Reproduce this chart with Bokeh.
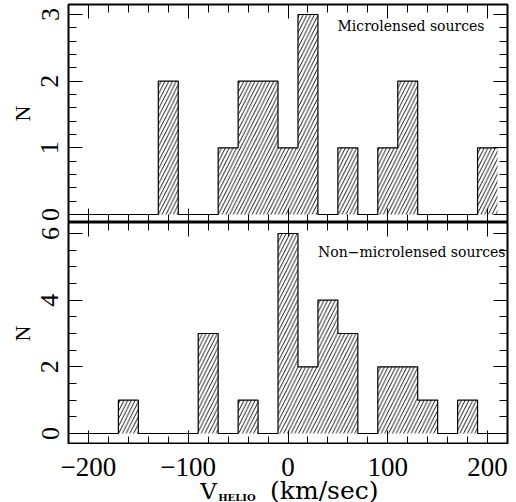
from bokeh.plotting import figure
from bokeh.models import Range1d, LinearAxis, FixedTicker, Label, CustomJSTickFormatter
from bokeh.layouts import column
from bokeh.embed import file_html
from bokeh.resources import INLINE

# ---- data (bin centres in km/s, counts per 20 km/s bin) ----
bin_centers = [-220, -200, -180, -160, -140, -120, -100, -80, -60, -40, -20,
               0, 20, 40, 60, 80, 100, 120, 140, 160, 180, 200]
bin_width = 20
micro_counts = [0, 0, 0, 0, 0, 2, 0, 0, 1, 2, 2,
                1, 3, 0, 1, 0, 1, 2, 0, 0, 0, 1]
nonmicro_counts = [0, 0, 0, 1, 0, 0, 0, 3, 0, 1, 0,
                   6, 2, 4, 3, 0, 2, 2, 1, 0, 1, 0]
x_major = [-200, -100, 0, 100, 200]
x_minor = list(range(-220, 221, 20))
y_top_major = [0, 1, 2, 3]
y_top_minor = [i * 0.2 for i in range(0, 17)]
y_bot_major = [0, 2, 4, 6]
y_bot_minor = [i * 0.5 for i in range(0, 14)]

TICK_FONT = "Liberation Serif"
SERIF = "DejaVu Serif"
W = 516
LB, RB = 68, 9

minus_fmt = CustomJSTickFormatter(code="return tick < 0 ? '\u2212' + Math.abs(tick) : String(tick);")
x_range = Range1d(-220, 220)


def ticks_only(ax):
    ax.major_tick_in = 14
    ax.major_tick_out = 0
    ax.minor_tick_in = 8
    ax.minor_tick_out = 0
    ax.axis_line_color = None
    ax.major_tick_line_color = "black"
    ax.minor_tick_line_color = "black"
    ax.major_tick_line_width = 1
    ax.minor_tick_line_width = 1
    ax.major_label_text_font_size = "0px"
    ax.major_label_standoff = 0


def make_panel(counts, y0, y1, ymaj, ymin, height, top_border):
    p = figure(width=W, height=height, x_range=x_range, y_range=Range1d(y0, y1),
               output_backend="svg", toolbar_location=None,
               x_axis_location=None, y_axis_location=None,
               min_border_left=LB, min_border_right=RB, min_border_top=top_border,
               min_border_bottom=0)
    p.outline_line_color = "black"
    p.outline_line_width = 2
    p.background_fill_color = "white"
    p.border_fill_color = "white"
    for g in p.grid:
        g.visible = False
    xt = FixedTicker(ticks=x_major, minor_ticks=x_minor)
    yt = FixedTicker(ticks=ymaj, minor_ticks=ymin)
    bottom = LinearAxis(ticker=xt)
    ticks_only(bottom)
    top = LinearAxis(ticker=xt)
    ticks_only(top)
    right = LinearAxis(ticker=yt)
    ticks_only(right)
    left = LinearAxis(ticker=yt)
    ticks_only(left)
    left.major_label_text_font = TICK_FONT
    left.major_label_text_font_size = "26px"
    left.major_label_text_color = "black"
    left.major_label_orientation = "vertical"
    left.major_label_standoff = 10
    left.axis_label = "N"
    left.axis_label_text_font = TICK_FONT
    left.axis_label_text_font_size = "22px"
    left.axis_label_text_font_style = "normal"
    left.axis_label_text_color = "black"
    left.axis_label_standoff = 4
    p.add_layout(bottom, "below")
    p.add_layout(top, "above")
    p.add_layout(left, "left")
    p.add_layout(right, "right")

    lefts = [c - bin_width / 2 for c in bin_centers]
    rights = [c + bin_width / 2 for c in bin_centers]
    p.quad(left=lefts, right=rights, bottom=[0] * len(counts), top=counts,
           fill_alpha=0, line_color=None,
           hatch_pattern="/", hatch_color="black", hatch_scale=7.5, hatch_weight=0.9)
    xs, ys = [], []
    for l, r, c in zip(lefts, rights, counts):
        xs += [l, r]
        ys += [c, c]
    p.line(xs, ys, line_color="black", line_width=1.2)
    return p


p1 = make_panel(micro_counts, -0.12, 3.15, y_top_major, y_top_minor, 222, 4)
p2 = make_panel(nonmicro_counts, -0.33, 6.33, y_bot_major, y_bot_minor, 222, 0)

p1.add_layout(Label(x=197, y=2.835, text="Microlensed sources", text_font=SERIF,
                    text_font_size="14px", text_align="right", text_baseline="alphabetic",
                    text_color="black"))
p2.add_layout(Label(x=218, y=5.46, text="Non\u2212microlensed sources", text_font=SERIF,
                    text_font_size="14px", text_align="right", text_baseline="alphabetic",
                    text_color="black"))

# strip under the lower panel: x tick labels (axis above its frame) + x-axis title
p3 = figure(width=W, height=58, x_range=x_range, y_range=Range1d(0, 48),
            output_backend="svg", toolbar_location=None,
            x_axis_location=None, y_axis_location=None,
            min_border_left=LB, min_border_right=RB, min_border_top=10, min_border_bottom=0)
p3.outline_line_color = None
p3.background_fill_color = "white"
p3.border_fill_color = "white"
for g in p3.grid:
    g.visible = False
xlab_axis = LinearAxis(ticker=FixedTicker(ticks=x_major, minor_ticks=[]), formatter=minus_fmt)
xlab_axis.axis_line_color = None
xlab_axis.major_tick_in = 0
xlab_axis.major_tick_out = 0
xlab_axis.minor_tick_in = 0
xlab_axis.minor_tick_out = 0
xlab_axis.major_label_text_font = TICK_FONT
xlab_axis.major_label_text_font_size = "27px"
xlab_axis.major_label_text_color = "black"
xlab_axis.major_label_standoff = -21
p3.add_layout(xlab_axis, "above")

p3.add_layout(Label(x=-88, y=12, text="V", text_font=SERIF, text_font_size="23px",
                    text_align="left", text_baseline="alphabetic", text_color="black"))
p3.add_layout(Label(x=-70, y=5, text="HELIO", text_font=SERIF, text_font_size="10px",
                    text_font_style="bold", text_align="left", text_baseline="alphabetic",
                    text_color="black"))
p3.add_layout(Label(x=-18, y=12, text="(km/sec)", text_font=SERIF, text_font_size="25px",
                    text_align="left", text_baseline="alphabetic", text_color="black"))

layout = column(p1, p2, p3, spacing=0)
open("out.html", "w").write(file_html(layout, INLINE))
